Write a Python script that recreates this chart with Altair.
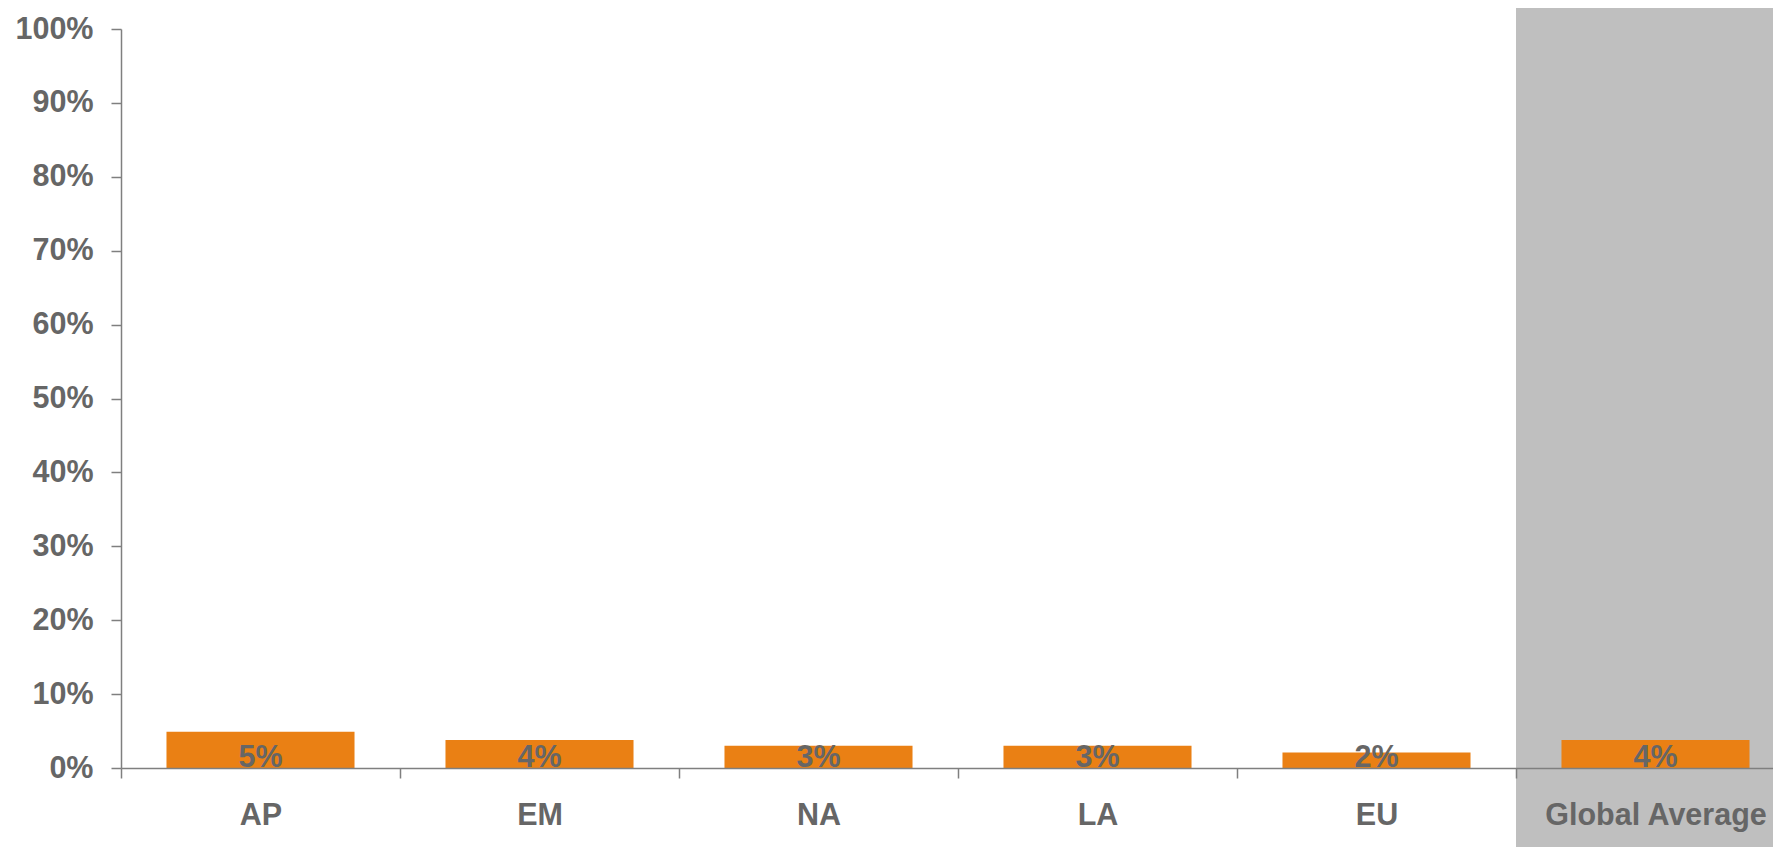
import altair as alt
import pandas as pd

categories = ["AP", "EM", "NA", "LA", "EU", "Global Average"]
values = [0.049, 0.038, 0.030, 0.030, 0.021, 0.038]
y_ticks = [0.0, 0.1, 0.2, 0.3, 0.4, 0.5, 0.6, 0.7, 0.8, 0.9, 1.0]
highlight = ["Global Average"]
highlight_top = [1.03]
highlight_bottom = [-0.2]

df = pd.DataFrame({"region": categories, "share": values})
hl = pd.DataFrame({"region": highlight, "top": highlight_top, "bottom": highlight_bottom})

FONT = "Liberation Sans, Arial, sans-serif"
TXT = "#666666"
LINE = "#7F7F7F"
FS = 30.5

xscale = alt.Scale(domain=categories, range=[0, 1674], paddingInner=0, paddingOuter=0)
yscale = alt.Scale(domain=[0, 1], nice=False, zero=True)

xaxis = alt.Axis(
    title=None, labelAngle=0, labelFont=FONT, labelFontSize=FS, labelFontWeight="bold",
    labelColor=TXT, labelPadding=22, labelLimit=0, tickSize=10, tickColor=LINE, tickWidth=1.5,
    domainColor=LINE, domainWidth=1.5, tickBand="extent", zindex=2, grid=False,
)
yaxis = alt.Axis(
    title=None, values=y_ticks, format=".0%", labelFont=FONT, labelFontSize=FS,
    labelFontWeight="bold", labelColor=TXT, labelPadding=18, tickSize=10,
    tickColor=LINE, tickWidth=1.5, domainColor=LINE, domainWidth=1.5, grid=False, zindex=2,
)

bg = alt.Chart(hl).mark_rect(color="#BFBFBF").encode(
    x=alt.X("region:N", scale=xscale, axis=xaxis, sort=categories),
    y=alt.Y("top:Q", scale=yscale, axis=yaxis),
    y2="bottom:Q",
)

bars = alt.Chart(df).mark_bar(color="#EA8014", width=alt.RelativeBandSize(0.674)).encode(
    x=alt.X("region:N", scale=xscale, sort=categories),
    y=alt.Y("share:Q", scale=yscale),
)

labels = alt.Chart(df).mark_text(
    font=FONT, fontSize=FS, fontWeight="bold", color=TXT, baseline="alphabetic", dy=-1
).encode(
    x=alt.X("region:N", scale=xscale, sort=categories),
    y=alt.datum(0),
    text=alt.Text("share:Q", format=".0%"),
)

chart = alt.layer(bg, bars, labels).properties(
    width=1652,
    height=739,
    padding={"left": 113, "top": 21, "right": 0, "bottom": 79},
    autosize=alt.AutoSizeParams(type="none"),
).configure_view(stroke=None)

chart.save("out.html", embed_options={"renderer": "svg", "actions": False})
